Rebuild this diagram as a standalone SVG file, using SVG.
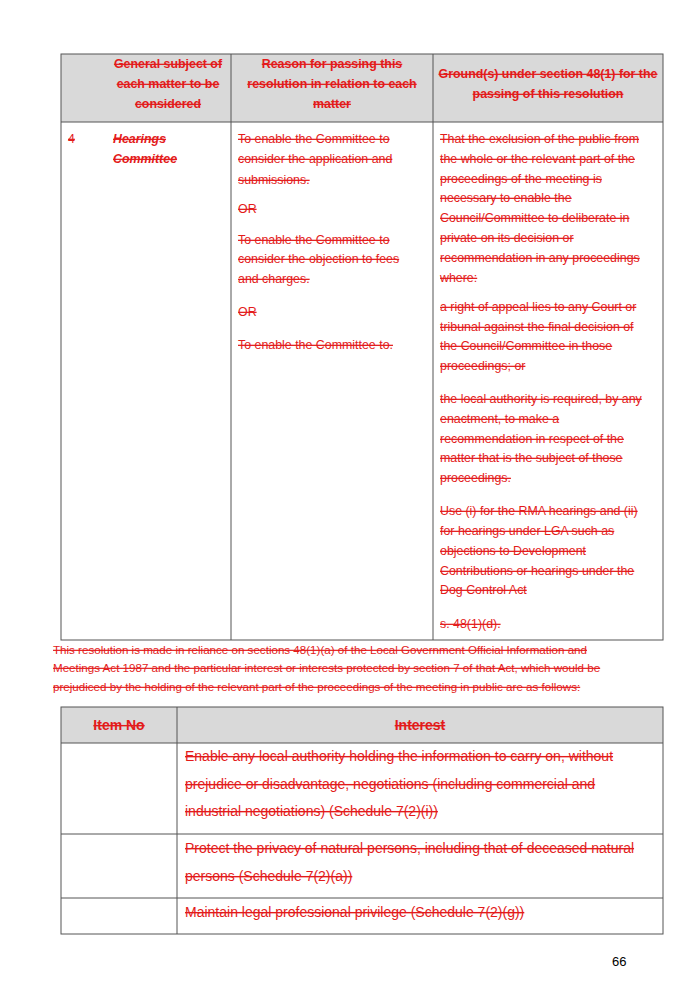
<svg xmlns="http://www.w3.org/2000/svg" width="680" height="993" viewBox="0 0 680 993">
<style>
text{font-family:"Liberation Sans",Arial,sans-serif;fill:#e31b1b;text-decoration:line-through;font-size:12.4px}
.b{font-weight:bold}
.i{font-style:italic;font-weight:bold}
.c{text-anchor:middle}
.l{font-size:14px}
.ln{stroke:#555;stroke-width:1;fill:none}
.h{fill:#d9d9d9}
.pn{fill:#000;text-decoration:none;font-size:13px}
</style>
<rect width="680" height="993" fill="#fff"/>
<g id="table1">
<rect class="h" x="61" y="54" width="602" height="68"/>
<rect class="ln" x="61" y="54" width="602" height="586"/>
<line class="ln" x1="61" y1="122" x2="663" y2="122"/>
<line class="ln" x1="231" y1="54" x2="231" y2="640"/>
<line class="ln" x1="433" y1="54" x2="433" y2="640"/>
<g class="b c">
<text x="168" y="68">General subject of</text>
<text x="168" y="88">each matter to be</text>
<text x="168" y="108">considered</text>
<text x="332" y="68">Reason for passing this</text>
<text x="332" y="88">resolution in relation to each</text>
<text x="332" y="108">matter</text>
<text x="548" y="78">Ground(s) under section 48(1) for the</text>
<text x="548" y="98">passing of this resolution</text>
</g>
<text x="68" y="143">4</text>
<text class="i" x="113" y="143">Hearings</text>
<text class="i" x="113" y="163">Committee</text>
<text x="238" y="143">To enable the Committee to</text>
<text x="238" y="163">consider the application and</text>
<text x="238" y="184">submissions.</text>
<text x="238" y="213">OR</text>
<text x="238" y="244">To enable the Committee to</text>
<text x="238" y="263">consider the objection to fees</text>
<text x="238" y="283">and charges.</text>
<text x="238" y="316">OR</text>
<text x="238" y="349">To enable the Committee to.</text>
<text x="440" y="143">That the exclusion of the public from</text>
<text x="440" y="163">the whole or the relevant part of the</text>
<text x="440" y="183">proceedings of the meeting is</text>
<text x="440" y="202">necessary to enable the</text>
<text x="440" y="222">Council/Committee to deliberate in</text>
<text x="440" y="242">private on its decision or</text>
<text x="440" y="262">recommendation in any proceedings</text>
<text x="440" y="282">where:</text>
<text x="440" y="311">a right of appeal lies to any Court or</text>
<text x="440" y="331">tribunal against the final decision of</text>
<text x="440" y="350">the Council/Committee in those</text>
<text x="440" y="370">proceedings; or</text>
<text x="440" y="403">the local authority is required, by any</text>
<text x="440" y="423">enactment, to make a</text>
<text x="440" y="443">recommendation in respect of the</text>
<text x="440" y="462">matter that is the subject of those</text>
<text x="440" y="482">proceedings.</text>
<text x="440" y="515">Use (i) for the RMA hearings and  (ii)</text>
<text x="440" y="535">for hearings under LGA such as</text>
<text x="440" y="555">objections to Development</text>
<text x="440" y="575">Contributions or hearings under the</text>
<text x="440" y="594">Dog Control Act</text>
<text x="440" y="628">s. 48(1)(d).</text>
</g>
<g id="para">
<text x="53" y="654" style="font-size:11.6px">This resolution is made in reliance on sections 48(1)(a) of the Local Government Official Information and</text>
<text x="53" y="672" style="font-size:11.6px">Meetings Act 1987 and the particular interest or interests protected by section 7 of that Act, which would be</text>
<text x="53" y="691" style="font-size:11.6px">prejudiced by the holding of the relevant part of the proceedings of the meeting in public are as follows:</text>
</g>
<g id="table2">
<rect class="h" x="61" y="707" width="602" height="36"/>
<rect class="ln" x="61" y="707" width="602" height="227"/>
<line class="ln" x1="61" y1="743" x2="663" y2="743"/>
<line class="ln" x1="61" y1="834" x2="663" y2="834"/>
<line class="ln" x1="61" y1="898" x2="663" y2="898"/>
<line class="ln" x1="177" y1="707" x2="177" y2="934"/>
<text class="b c l" x="119" y="730">Item No</text>
<text class="b c l" x="420" y="730">Interest</text>
<text class="l" x="185" y="761">Enable any local authority holding the information to carry on, without</text>
<text class="l" x="185" y="789">prejudice or disadvantage, negotiations (including commercial and</text>
<text class="l" x="185" y="816">industrial negotiations) (Schedule 7(2)(i))</text>
<text class="l" x="185" y="853">Protect the privacy of natural persons, including that of deceased natural</text>
<text class="l" x="185" y="881">persons (Schedule 7(2)(a))</text>
<text class="l" x="185" y="917">Maintain legal professional privilege (Schedule 7(2)(g))</text>
</g>
<text class="pn" x="612" y="966">66</text>
</svg>
